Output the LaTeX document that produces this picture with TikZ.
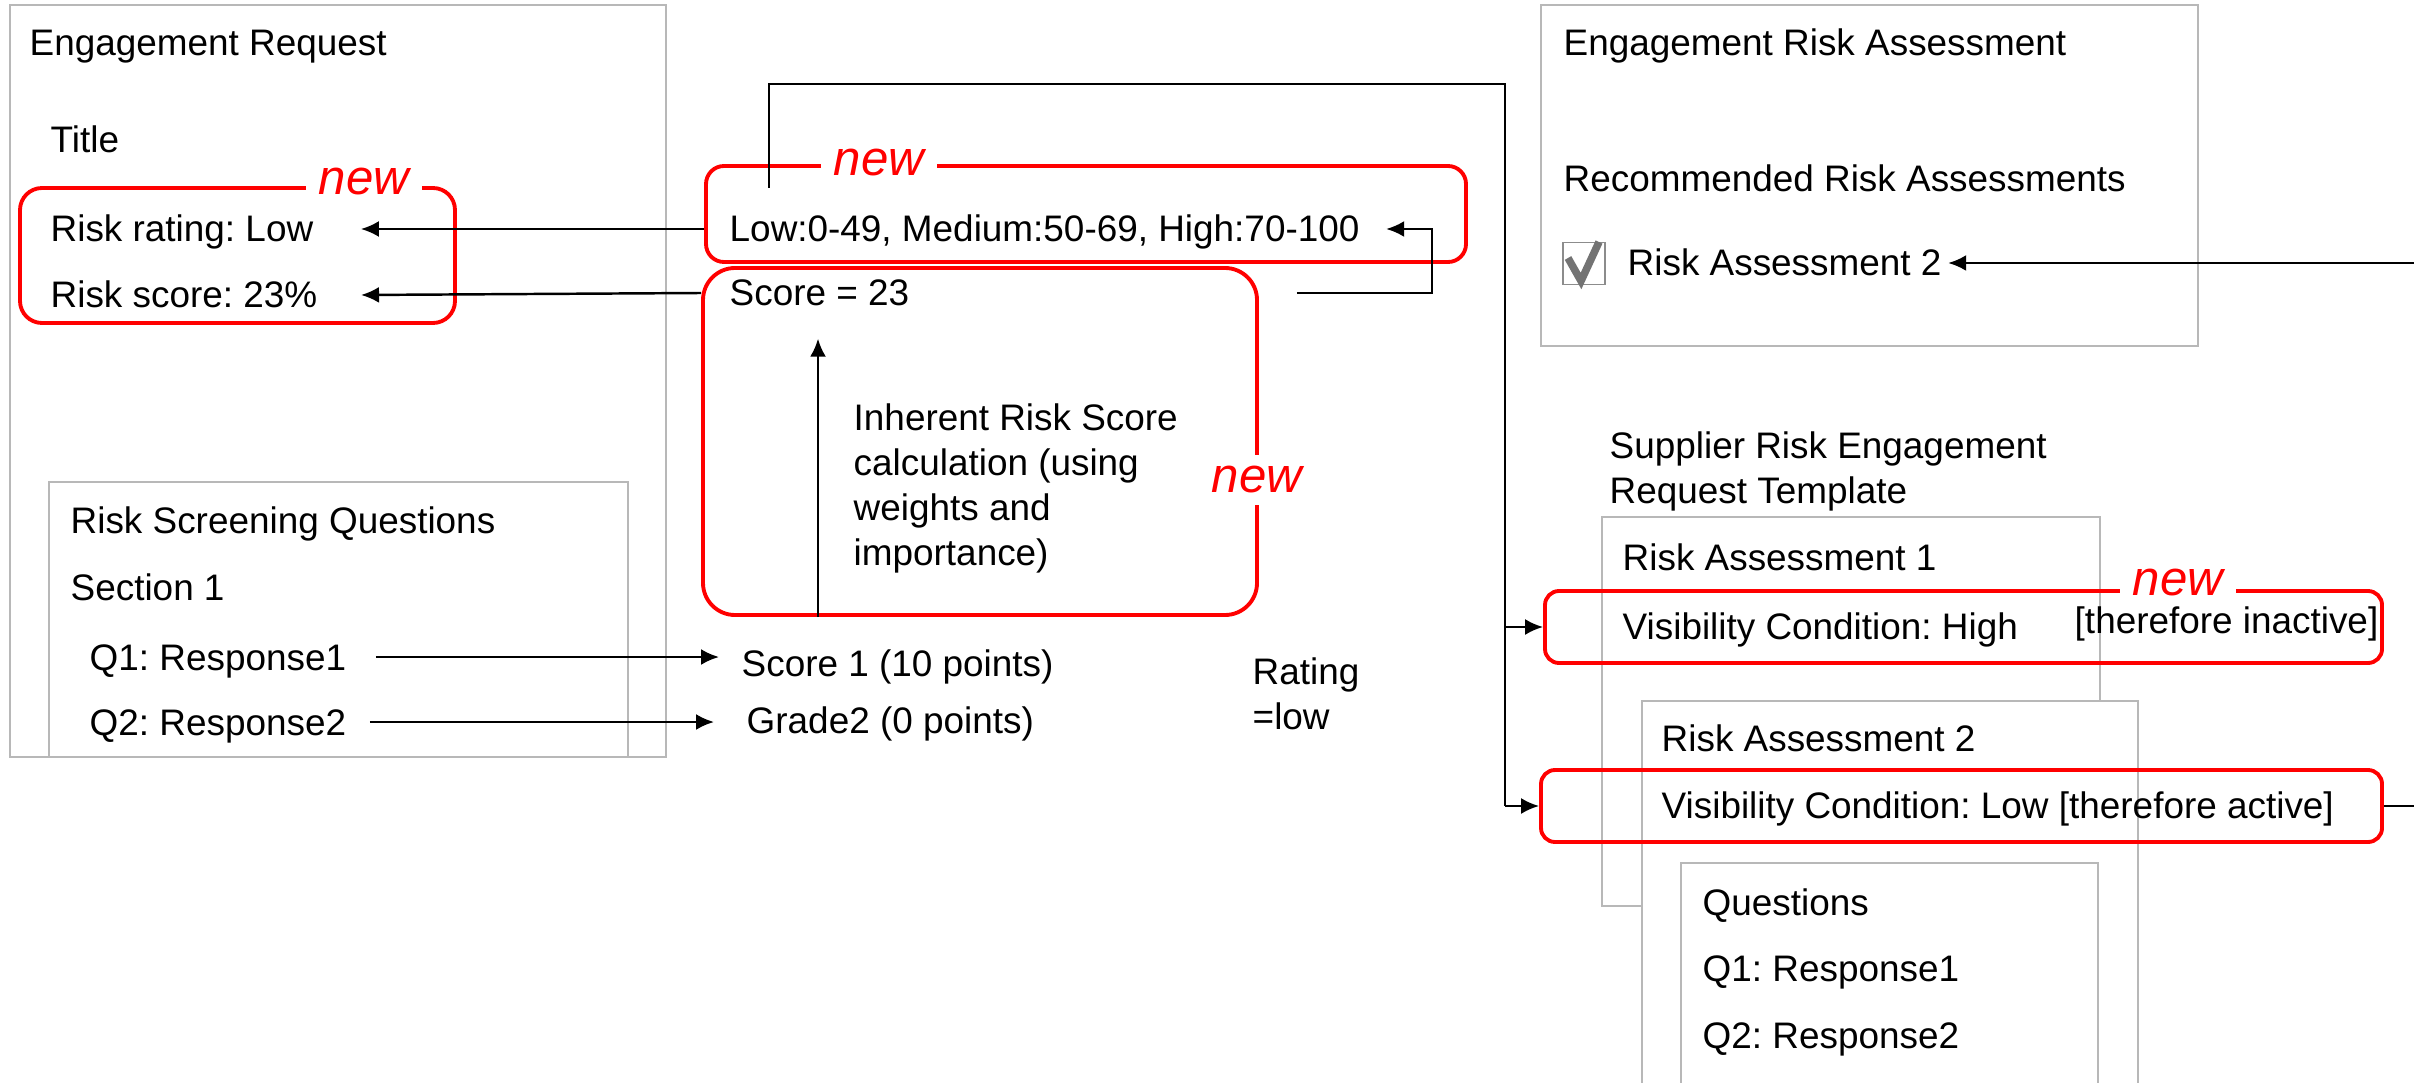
\documentclass[tikz,border=0pt]{standalone}
\usepackage{fontspec}
\setmainfont{Liberation Sans}
\usetikzlibrary{arrows.meta,calc}
\frenchspacing

\begin{document}
\begin{tikzpicture}
\tikzstyle{txt}=[anchor=west, inner sep=0, font=\fontsize{10.5}{12.8}\selectfont, text height=0.30cm, text depth=0.04cm]
\tikzstyle{lines}=[anchor=north west, inner sep=0, align=left, font=\fontsize{10.5}{12.8}\selectfont]
\tikzstyle{pane}=[rectangle, draw=black!28, line width=0.4pt, fill=white, inner sep=0]
\tikzstyle{newbox}=[rectangle, draw=red, line width=1.1pt, inner sep=0]
\tikzstyle{newtag}=[fill=white, text=red, inner xsep=0.13cm, inner ysep=0.04cm, font=\fontsize{14}{16}\selectfont\itshape]
\tikzstyle{arr}=[-{Latex[length=1.8mm,width=1.6mm]}, line width=0.7pt]

\path[use as bounding box, fill=white] (0,0) rectangle (24.14,-10.83);
\clip (0,0) rectangle (24.14,-10.83);

    \node[pane, minimum width=6.56cm, minimum height=7.52cm] (erbox) at (3.38,-3.81) {};
    \node[pane, minimum width=5.79cm, minimum height=2.75cm] (rsqbox) at (3.385,-6.195) {};
    \node[pane, minimum width=6.57cm, minimum height=3.41cm] (erabox) at (18.695,-1.755) {};
    \node[pane, minimum width=4.98cm, minimum height=3.89cm] (ra1box) at (18.51,-7.115) {};
    \node[pane, minimum width=4.96cm, minimum height=4.19cm] (ra2box) at (18.90,-9.105) {};
    \node[pane, minimum width=4.17cm, minimum height=2.57cm] (qbox) at (18.895,-9.915) {};

    \node[newbox, rounded corners=0.22cm, minimum width=4.35cm,
    minimum height=1.35cm] (ratingbox) at (2.375,-2.555) {};
    \node[newbox, rounded corners=0.18cm, minimum width=7.60cm,
    minimum height=0.96cm] (bandbox) at (10.86,-2.14) {};
    \node[newbox, rounded corners=0.32cm, minimum width=5.54cm,
    minimum height=3.47cm] (scorebox) at (9.80,-4.415) {};
    \node[newbox, rounded corners=0.14cm, minimum width=8.37cm,
    minimum height=0.72cm] (vc1) at (19.635,-6.27) {};
    \node[newbox, rounded corners=0.14cm, minimum width=8.41cm,
    minimum height=0.72cm] (vc2) at (19.615,-8.06) {};

\node[newtag] (new1) at (3.64,-1.82) {new};
\node[newtag] (new2) at (8.79,-1.63) {new};
\node[newtag, inner ysep=0.12cm] (new3) at (12.57,-4.80) {new};
\node[newtag] (new4) at (21.78,-5.83) {new};

\node[txt] (er) at (0.29,-0.43) {Engagement Request};
\node[txt] (title) at (0.50,-1.40) {Title};
\node[txt] (rating) at (0.50,-2.29) {Risk rating: Low};
\node[txt] (riskscore) at (0.50,-2.95) {Risk score: 23\%};
\node[txt] (rsq) at (0.70,-5.20) {Risk Screening Questions};
\node[txt] (sec) at (0.70,-5.87) {Section 1};
\node[txt] (q1) at (0.89,-6.57) {Q1: Response1};
\node[txt] (q2) at (0.89,-7.22) {Q2: Response2};

\node[txt] (band) at (7.29,-2.29) {Low:0-49, Medium:50-69, High:70-100};
\node[txt] (score) at (7.29,-2.93) {Score = 23};
\node[lines] (calc) at (8.53,-4.03) {Inherent Risk Score\\calculation (using\\weights and\\importance)};
\node[txt] (sc1) at (7.41,-6.63) {Score 1 (10 points)};
\node[txt] (gr2) at (7.46,-7.20) {Grade2 (0 points)};
\node[lines] (ratinglow) at (12.52,-6.57) {Rating\\=low};

\node[txt] (era) at (15.63,-0.43) {Engagement Risk Assessment};
\node[txt] (rec) at (15.63,-1.79) {Recommended Risk Assessments};
\node[rectangle, draw=black!45, minimum size=0.42cm, inner sep=0] (chk) at (15.84,-2.635) {};
\draw[black!55, line width=0.075cm] (15.68,-2.58) -- (15.81,-2.81) -- (15.99,-2.42);
\node[txt] (ra2ref) at (16.27,-2.63) {Risk Assessment 2};

\node[lines] (srt) at (16.09,-4.31) {Supplier Risk Engagement\\Request Template};
\node[txt] (ra1t) at (16.22,-5.57) {Risk Assessment 1};
\node[txt] (vc1t) at (16.22,-6.26) {Visibility Condition: High};
\node[txt] (inact) at (20.74,-6.20) {[therefore inactive]};
\node[txt] (ra2t) at (16.61,-7.38) {Risk Assessment 2};
\node[txt] (vc2t) at (16.61,-8.05) {Visibility Condition: Low [therefore active]};
\node[txt] (qt) at (17.02,-9.02) {Questions};
\node[txt] (qq1) at (17.02,-9.68) {Q1: Response1};
\node[txt] (qq2) at (17.02,-10.35) {Q2: Response2};

\coordinate (tap) at (7.69,-1.88);
\coordinate (bus) at (15.05,-0.84);
\coordinate (calcfoot) at (8.18,-6.17);

\draw[arr] (band.west -| bandbox.west) -- ($(rating.east)+(0.47,0)$);
\draw[arr] (score.west -| scorebox.west) -- ($(riskscore.east)+(0.43,0)$);
\draw[arr] ($(score.west -| scorebox.east)+(0.38,0)$) -| ($(band.east)+(0.72,0)$) -- ($(band.east)+(0.26,0)$);
\draw[arr] (calcfoot) -- ($(calcfoot |- score.south)+(0,-0.28)$);
\draw[arr] ($(q1.east)+(0.29,0)$) -- ($(q1.east -| sc1.west)+(-0.22,0)$);
\draw[arr] ($(q2.east)+(0.23,0)$) -- ($(q2.east -| gr2.west)+(-0.32,0)$);

\draw[line width=0.7pt] (tap) |- (bus) -- (bus |- vc2.west);
\draw[arr] (bus |- vc1.west) -- (vc1.west);
\draw[arr] (bus |- vc2.west) -- (vc2.west);
\draw[arr] (vc2.east) -- ++(0.6,0) |- ($(ra2ref.east)+(0.06,0)$);
\end{tikzpicture}
\end{document}
